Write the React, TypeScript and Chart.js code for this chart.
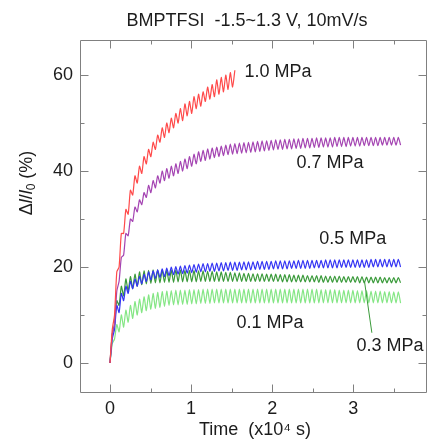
import React, { useEffect, useRef } from 'react';
import { Chart, registerables } from 'chart.js';

Chart.register(...registerables);

// One CV cycle (-1.5 ~ 1.3 V at 10 mV/s) expressed in units of 10^4 s
const PERIOD = 0.056;

const xTickValues = [0, 0.5, 1, 1.5, 2, 2.5, 3, 3.5];
const xTickLabels = ['0', '', '1', '', '2', '', '3', ''];
const yTickValues = [0, 10, 20, 30, 40, 50, 60];
const yTickLabels = ['0', '', '20', '', '40', '', '60'];

const seriesNames = ['1.0 MPa', '0.7 MPa', '0.5 MPa', '0.3 MPa', '0.1 MPa'];

// values (%) at the low point and high point of each cycle
const red10Troughs = [0, 10, 20, 27, 31, 35, 37.5, 39.5, 41.5, 43, 44.5, 46, 47, 48, 49, 50, 50.5, 51.5, 52, 53, 53.5, 54.5, 55, 55.5, 56, 56.5, 57, 57.5];
const red10Peaks = [7, 19, 27, 32, 36, 39, 41, 43, 44.5, 46, 47.5, 49, 50, 51, 52, 53, 54, 54.5, 55.5, 56, 56.5, 57.5, 58, 59, 59.5, 60, 60.5, 61];

const purple07Troughs = [0, 8, 17, 22.5, 26.5, 29.5, 31.5, 33, 34.5, 35.5, 36.5, 37.5, 38, 38.5, 39, 39.5, 40, 40.5, 41, 41.5, 42, 42.2, 42.5, 42.8, 43, 43.2, 43.4, 43.5, 43.6, 43.7, 43.8, 43.9, 44, 44.1, 44.2, 44.3, 44.4, 44.5, 44.5, 44.6, 44.6, 44.7, 44.7, 44.8, 44.8, 44.9, 44.9, 45, 45, 45, 45.1, 45.1, 45.1, 45.2, 45.2, 45.2, 45.3, 45.3, 45.3, 45.3, 45.4, 45.4, 45.4, 45.4, 45.4];
const purple07Peaks = [6, 15, 22, 27, 30, 32.5, 34, 35.5, 37, 38, 39, 40, 40.5, 41, 41.5, 42, 42.5, 43, 43.5, 44, 44.3, 44.6, 44.8, 45, 45.2, 45.4, 45.6, 45.7, 45.8, 45.9, 46, 46.1, 46.2, 46.3, 46.3, 46.4, 46.5, 46.5, 46.6, 46.6, 46.7, 46.7, 46.8, 46.8, 46.8, 46.9, 46.9, 46.9, 46.9, 47, 47, 47, 47, 47, 47, 47, 47, 47, 47, 47, 47, 47, 47, 47];

const blue05Troughs = [0, 7, 10.5, 13, 14.5, 15.5, 16, 16.5, 17, 17.3, 17.6, 17.8, 18, 18.2, 18.4, 18.5, 18.6, 18.7, 18.8, 18.9, 19, 19, 19.1, 19.1, 19.2, 19.2, 19.3, 19.3, 19.3, 19.4, 19.4, 19.4, 19.5, 19.5, 19.5, 19.5, 19.6, 19.6, 19.6, 19.6, 19.7, 19.7, 19.7, 19.7, 19.7, 19.8, 19.8, 19.8, 19.8, 19.8, 19.8, 19.9, 19.9, 19.9, 19.9, 19.9, 19.9, 19.9, 20, 20, 20, 20, 20, 20, 20];
const blue05Peaks = [5, 12, 14.5, 16, 17, 17.5, 18, 18.5, 19, 19.2, 19.4, 19.6, 19.8, 20, 20.1, 20.2, 20.3, 20.4, 20.5, 20.6, 20.7, 20.7, 20.8, 20.8, 20.9, 20.9, 21, 21, 21, 21.1, 21.1, 21.1, 21.2, 21.2, 21.2, 21.2, 21.3, 21.3, 21.3, 21.3, 21.3, 21.4, 21.4, 21.4, 21.4, 21.4, 21.4, 21.5, 21.5, 21.5, 21.5, 21.5, 21.5, 21.5, 21.5, 21.5, 21.5, 21.6, 21.6, 21.6, 21.6, 21.6, 21.6, 21.6];

const green03Troughs = [0, 8, 12, 14, 15, 15.5, 16, 16.3, 16.5, 16.6, 16.7, 16.7, 16.8, 16.8, 16.8, 16.9, 16.9, 16.9, 16.9, 16.9, 17, 17, 17, 17, 17, 17, 17, 17, 17, 17, 17, 17, 17, 17, 17, 17, 17, 17, 16.9, 16.9, 16.9, 16.9, 16.9, 16.9, 16.9, 16.9, 16.8, 16.8, 16.8, 16.8, 16.8, 16.8, 16.8, 16.8, 16.8, 16.7, 16.7, 16.7, 16.7, 16.7, 16.7, 16.7, 16.7, 16.7, 16.7];
const green03Peaks = [6, 13, 16, 17.5, 18, 18.5, 19, 19.2, 19.3, 19.4, 19.4, 19.4, 19.4, 19.4, 19.4, 19.4, 19.3, 19.3, 19.3, 19.2, 19.2, 19.1, 19.1, 19, 19, 18.9, 18.9, 18.8, 18.8, 18.7, 18.7, 18.6, 18.6, 18.6, 18.5, 18.5, 18.5, 18.4, 18.4, 18.4, 18.3, 18.3, 18.3, 18.2, 18.2, 18.2, 18.2, 18.1, 18.1, 18.1, 18.1, 18, 18, 18, 18, 18, 17.9, 17.9, 17.9, 17.9, 17.8, 17.8, 17.8, 17.8];

const lime01Troughs = [0, 5, 6.5, 7.5, 8.5, 9.3, 10, 10.5, 10.9, 11.2, 11.4, 11.6, 11.8, 12, 12.1, 12.1, 12.2, 12.2, 12.3, 12.3, 12.4, 12.4, 12.4, 12.5, 12.5, 12.5, 12.5, 12.5, 12.5, 12.5, 12.5, 12.5, 12.5, 12.5, 12.5, 12.5, 12.5, 12.5, 12.5, 12.5, 12.5, 12.5, 12.5, 12.5, 12.5, 12.5, 12.5, 12.5, 12.5, 12.5, 12.5, 12.5, 12.5, 12.5, 12.5, 12.5, 12.5, 12.5, 12.5, 12.5, 12.5, 12.5, 12.5, 12.5, 12.5];
const lime01Peaks = [4, 8, 10, 11, 12, 12.8, 13.3, 13.8, 14.2, 14.5, 14.7, 14.9, 15, 15.1, 15.2, 15.2, 15.2, 15.3, 15.3, 15.3, 15.4, 15.4, 15.4, 15.4, 15.4, 15.4, 15.4, 15.4, 15.4, 15.4, 15.4, 15.4, 15.4, 15.4, 15.4, 15.4, 15.4, 15.4, 15.4, 15.4, 15.4, 15.4, 15.4, 15.4, 15.4, 15.4, 15.3, 15.3, 15.3, 15.3, 15.2, 15.2, 15.2, 15.2, 15.1, 15.1, 15.1, 15, 15, 15, 14.9, 14.9, 14.8, 14.8];

// label anchor points in data units (x10^4 s, %)
const labelAnchors = [
  { text: '1.0 MPa', x: 1.66, y: 60.6 },
  { text: '0.7 MPa', x: 2.3, y: 41.7 },
  { text: '0.5 MPa', x: 2.58, y: 25.8 },
  { text: '0.1 MPa', x: 1.56, y: 8.3 },
  { text: '0.3 MPa', x: 3.04, y: 3.5 },
];
const leaderFrom = { x: 3.14, y: 16.9 };
const leaderTo = { x: 3.23, y: 6.3 };

const TITLE = 'BMPTFSI  -1.5~1.3 V, 10mV/s';
const X_TITLE = 'Time  (x10\u2074 s)';

const FONT = '"Liberation Sans", Arial, Helvetica, sans-serif';
const AXIS_COLOR = '#808080';
const TEXT_COLOR = '#1c1c1c';
const COLORS = ['#ff4a4a', '#a444b2', '#3434f4', '#3a9a3a', '#84e684'];

function buildSeries(troughs: number[], peaks: number[]) {
  const pts: { x: number; y: number }[] = [];
  const n = Math.max(troughs.length, peaks.length);
  for (let k = 0; k < n; k++) {
    if (k < troughs.length) pts.push({ x: k * PERIOD, y: troughs[k] });
    if (k < peaks.length) pts.push({ x: (k + 0.5) * PERIOD, y: peaks[k] });
  }
  return pts;
}

const overlay = {
  id: 'overlay',
  afterDatasetsDraw(chart: any) {
    const { ctx, chartArea: ca, scales } = chart;
    const xs = scales.x;
    const ys = scales.y;
    ctx.save();
    // frame
    ctx.strokeStyle = AXIS_COLOR;
    ctx.lineWidth = 1;
    const L = Math.round(ca.left) + 0.5;
    const R = Math.round(ca.right) - 0.5;
    const T = Math.round(ca.top) + 0.5;
    const B = Math.round(ca.bottom) - 0.5;
    ctx.beginPath();
    ctx.moveTo(L, T); ctx.lineTo(R, T); ctx.lineTo(R, B); ctx.lineTo(L, B); ctx.closePath();
    ctx.stroke();
    // inward ticks
    ctx.beginPath();
    xTickValues.forEach((v, i) => {
      const px = Math.round(xs.getPixelForValue(v)) + 0.5;
      const len = xTickLabels[i] ? 8 : 4;
      ctx.moveTo(px, B); ctx.lineTo(px, B - len);
      ctx.moveTo(px, T); ctx.lineTo(px, T + len);
    });
    yTickValues.forEach((v, i) => {
      const py = Math.round(ys.getPixelForValue(v)) + 0.5;
      const len = yTickLabels[i] ? 8 : 4;
      ctx.moveTo(L, py); ctx.lineTo(L + len, py);
      ctx.moveTo(R, py); ctx.lineTo(R - len, py);
    });
    ctx.stroke();
    // leader line for 0.3 MPa
    ctx.strokeStyle = COLORS[3];
    ctx.beginPath();
    ctx.moveTo(xs.getPixelForValue(leaderFrom.x), ys.getPixelForValue(leaderFrom.y));
    ctx.lineTo(xs.getPixelForValue(leaderTo.x), ys.getPixelForValue(leaderTo.y));
    ctx.stroke();
    // curve labels
    ctx.fillStyle = TEXT_COLOR;
    ctx.font = `18px ${FONT}`;
    ctx.textAlign = 'left';
    ctx.textBaseline = 'middle';
    labelAnchors.forEach((a) => {
      ctx.fillText(a.text, xs.getPixelForValue(a.x), ys.getPixelForValue(a.y));
    });
    ctx.restore();
  },
  afterDraw(chart: any) {
    const { ctx } = chart;
    ctx.save();
    ctx.fillStyle = TEXT_COLOR;
    ctx.textBaseline = 'middle';
    ctx.textAlign = 'center';
    // title
    ctx.font = `18px ${FONT}`;
    ctx.fillText(TITLE, 247, 21);
    // x title
    ctx.fillText(X_TITLE, 255, 430);
    // y title, rotated, with italic l and subscript 0
    ctx.translate(27, 183);
    ctx.rotate(-Math.PI / 2);
    const parts = [
      { t: '\u0394', f: `18px ${FONT}`, dy: 0 },
      { t: 'l', f: `italic 18px ${FONT}`, dy: 0 },
      { t: '/', f: `18px ${FONT}`, dy: 0 },
      { t: 'l', f: `italic 18px ${FONT}`, dy: 0 },
      { t: '0', f: `12px ${FONT}`, dy: 5 },
      { t: ' (%)', f: `18px ${FONT}`, dy: 0 },
    ];
    let total = 0;
    parts.forEach((p) => { ctx.font = p.f; total += ctx.measureText(p.t).width; });
    let cx = -total / 2;
    ctx.textAlign = 'left';
    parts.forEach((p) => {
      ctx.font = p.f;
      ctx.fillText(p.t, cx, p.dy);
      cx += ctx.measureText(p.t).width;
    });
    ctx.restore();
  },
};

export default function App() {
  const canvasRef = useRef<HTMLCanvasElement | null>(null);

  useEffect(() => {
    const canvas = canvasRef.current;
    if (!canvas) return;
    const seriesData = [
      buildSeries(red10Troughs, red10Peaks),
      buildSeries(purple07Troughs, purple07Peaks),
      buildSeries(blue05Troughs, blue05Peaks),
      buildSeries(green03Troughs, green03Peaks),
      buildSeries(lime01Troughs, lime01Peaks),
    ];
    const chart = new Chart(canvas, {
      type: 'line',
      data: {
        datasets: seriesData.map((d, i) => ({
          label: seriesNames[i],
          data: d,
          borderColor: COLORS[i],
          backgroundColor: COLORS[i],
          borderWidth: 1.2,
          pointRadius: 0,
          tension: 0.2,
          fill: false,
        })),
      },
      options: {
        animation: false,
        responsive: false,
        devicePixelRatio: 1,
        events: [],
        layout: { padding: { top: 40, right: 1, left: 0, bottom: 0 } },
        plugins: {
          legend: { display: false },
          title: { display: false },
          tooltip: { enabled: false },
        },
        scales: {
          x: {
            type: 'linear',
            min: -0.37,
            max: 3.91,
            grid: { display: false, drawTicks: false },
            border: { display: false },
            afterBuildTicks: (scale: any) => {
              scale.ticks = xTickValues.map((v) => ({ value: v }));
            },
            afterFit: (scale: any) => { scale.height = 48; },
            ticks: {
              autoSkip: false,
              maxRotation: 0,
              padding: 5,
              color: TEXT_COLOR,
              font: { family: FONT, size: 18 },
              callback: (v: any) => {
                const i = xTickValues.indexOf(Number(v));
                return i >= 0 ? xTickLabels[i] : '';
              },
            },
          },
          y: {
            type: 'linear',
            min: -6.25,
            max: 67.3,
            grid: { display: false, drawTicks: false },
            border: { display: false },
            afterBuildTicks: (scale: any) => {
              scale.ticks = yTickValues.map((v) => ({ value: v }));
            },
            afterFit: (scale: any) => { scale.width = 80; },
            ticks: {
              autoSkip: false,
              padding: 7,
              color: TEXT_COLOR,
              font: { family: FONT, size: 18 },
              callback: (v: any) => {
                const i = yTickValues.indexOf(Number(v));
                return i >= 0 ? yTickLabels[i] : '';
              },
            },
          },
        },
      },
      plugins: [overlay],
    } as any);
    return () => chart.destroy();
  }, []);

  return (
    <div style={{ position: 'fixed', left: 0, top: 0, width: 428, height: 441, background: '#fff' }}>
      <canvas ref={canvasRef} width={428} height={441} style={{ width: 428, height: 441, display: 'block' }} />
    </div>
  );
}
